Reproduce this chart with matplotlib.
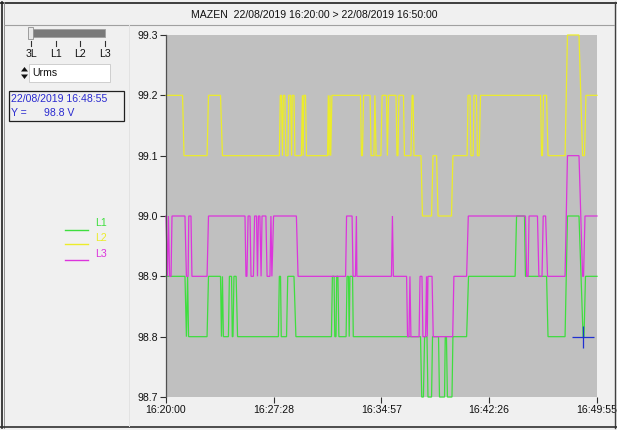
import matplotlib
matplotlib.use("Agg")
import matplotlib.pyplot as plt
from matplotlib.patches import Rectangle, Polygon
from matplotlib.lines import Line2D

# ---- data: seconds after 16:20:00 and measured Urms (V) ----
l1_t = [0, 79, 85, 90, 94, 171, 177, 227, 231, 235, 239, 260, 264, 273, 276, 279, 283, 292, 298,
        468, 472, 477, 480, 502, 507, 533, 541, 689, 693, 700, 703, 708, 711, 716, 720, 750, 754,
        760, 763, 766, 777, 780, 1060, 1065, 1072, 1077, 1087, 1091, 1106, 1110, 1135, 1139, 1160,
        1163, 1168, 1172, 1191, 1195, 1252, 1260, 1454, 1460, 1493, 1497, 1585, 1591, 1662, 1672,
        1720, 1737, 1741, 1747, 1795]
l1_v = [98.9, 98.9, 98.8, 98.9, 98.8, 98.8, 98.9, 98.9, 98.8, 98.9, 98.8, 98.8, 98.9, 98.9, 98.8,
        98.8, 98.9, 98.9, 98.8, 98.8, 98.9, 98.9, 98.8, 98.8, 98.9, 98.9, 98.8, 98.8, 98.9, 98.9,
        98.8, 98.8, 98.9, 98.9, 98.8, 98.8, 98.9, 98.9, 98.8, 98.9, 98.9, 98.8, 98.8, 98.7, 98.7,
        98.8, 98.8, 98.7, 98.7, 98.8, 98.8, 98.7, 98.7, 98.8, 98.8, 98.7, 98.7, 98.8, 98.8, 98.9,
        98.9, 99.0, 99.0, 98.9, 98.9, 98.8, 98.8, 99.0, 99.0, 98.8, 98.8, 98.9, 98.9]

l2_t = [0, 69, 75, 171, 177, 227, 235, 472, 476, 481, 485, 489, 495, 499, 508, 511, 519, 523, 526,
        533, 537, 564, 568, 571, 574, 581, 585, 673, 676, 679, 683, 686, 691, 810, 814, 818, 823,
        850, 854, 866, 870, 875, 895, 900, 918, 922, 927, 958, 962, 966, 970, 989, 993, 1020, 1025,
        1029, 1033, 1062, 1068, 1106, 1112, 1127, 1133, 1189, 1195, 1254, 1258, 1266, 1270, 1279,
        1283, 1293, 1297, 1304, 1310, 1560, 1564, 1568, 1572, 1585, 1591, 1662, 1672, 1720, 1735,
        1743, 1749, 1795]
l2_v = [99.2, 99.2, 99.1, 99.1, 99.2, 99.2, 99.1, 99.1, 99.2, 99.2, 99.1, 99.2, 99.2, 99.1, 99.1,
        99.2, 99.2, 99.1, 99.2, 99.2, 99.1, 99.1, 99.2, 99.1, 99.2, 99.2, 99.1, 99.1, 99.2, 99.1,
        99.2, 99.1, 99.2, 99.2, 99.1, 99.1, 99.2, 99.2, 99.1, 99.1, 99.2, 99.1, 99.1, 99.2, 99.2,
        99.1, 99.2, 99.2, 99.1, 99.1, 99.2, 99.2, 99.1, 99.1, 99.2, 99.2, 99.1, 99.1, 99.0, 99.0,
        99.1, 99.1, 99.0, 99.0, 99.1, 99.1, 99.2, 99.2, 99.1, 99.1, 99.2, 99.2, 99.1, 99.1, 99.2,
        99.2, 99.1, 99.1, 99.2, 99.2, 99.1, 99.1, 99.3, 99.3, 99.1, 99.1, 99.2, 99.2]

l3_t = [0, 6, 10, 15, 21, 25, 79, 85, 92, 95, 104, 108, 171, 177, 329, 333, 337, 342, 350, 354,
        364, 369, 377, 381, 385, 391, 396, 400, 416, 421, 433, 437, 441, 448, 543, 550, 748, 752,
        775, 779, 789, 793, 795, 939, 943, 947, 1002, 1006, 1012, 1016, 1020, 1054, 1058, 1066,
        1070, 1081, 1085, 1088, 1091, 1108, 1113, 1194, 1199, 1252, 1259, 1497, 1502, 1508, 1512,
        1547, 1553, 1566, 1571, 1581, 1589, 1662, 1672, 1720, 1735, 1739, 1745, 1795]
l3_v = [99.0, 98.9, 99.0, 98.9, 98.9, 99.0, 99.0, 98.9, 98.9, 99.0, 99.0, 98.9, 98.9, 99.0, 99.0,
        98.9, 98.9, 99.0, 99.0, 98.9, 98.9, 99.0, 99.0, 98.9, 99.0, 99.0, 98.9, 99.0, 99.0, 98.9,
        98.9, 99.0, 98.9, 99.0, 99.0, 98.9, 98.9, 99.0, 99.0, 98.9, 98.9, 99.0, 98.9, 98.9, 99.0,
        98.9, 98.9, 98.8, 98.8, 98.9, 98.8, 98.8, 98.9, 98.9, 98.8, 98.8, 98.9, 98.8, 98.9, 98.9,
        98.8, 98.8, 98.9, 98.9, 99.0, 99.0, 98.9, 98.9, 99.0, 99.0, 98.9, 98.9, 99.0, 99.0, 98.9,
        98.9, 99.1, 99.1, 98.9, 98.9, 99.0, 99.0]

series_names = ["L1", "L2", "L3"]
series_colors = ["#3ede3e", "#ecec2a", "#dc34dc"]

x_ticks = [0, 448, 897, 1346, 1795]
x_ticklabels = ["16:20:00", "16:27:28", "16:34:57", "16:42:26", "16:49:55"]
y_ticks = [98.7, 98.8, 98.9, 99.0, 99.1, 99.2, 99.3]
y_ticklabels = ["98.7", "98.8", "98.9", "99.0", "99.1", "99.2", "99.3"]

title_text = "MAZEN  22/08/2019 16:20:00 > 22/08/2019 16:50:00"
cursor_t = 1735
cursor_v = 98.8
cursor_label = "22/08/2019 16:48:55"
quantity = "Urms"
selector_labels = ["3L", "L1", "L2", "L3"]

# ---- figure ----
W, H = 617, 430
plt.rcParams["font.family"] = ["Liberation Sans", "DejaVu Sans"]
fig = plt.figure(figsize=(W / 100, H / 100), dpi=100, facecolor="#f0f0f0")


def fx(x):
    return x / W


def fy(y):
    return 1 - y / H


def hline(x0, x1, y, color, lw=1.0):
    fig.add_artist(Line2D([fx(x0), fx(x1)], [fy(y), fy(y)], color=color, lw=lw,
                          transform=fig.transFigure))


def vline(x, y0, y1, color, lw=1.0):
    fig.add_artist(Line2D([fx(x), fx(x)], [fy(y0), fy(y1)], color=color, lw=lw,
                          transform=fig.transFigure))


def rect(x0, y0, x1, y1, fc, ec="none", lw=0.8):
    fig.add_artist(Rectangle((fx(x0), fy(y1)), fx(x1) - fx(x0), fy(y0) - fy(y1),
                             facecolor=fc, edgecolor=ec, lw=lw, transform=fig.transFigure))


# window frame and title bar
hline(0, W, 2.5, "#202020", 1.2)
vline(1.5, 2, 428, "#202020", 1.2)
vline(3.5, 2, 428, "#909090", 0.7)
vline(614.5, 2, 428, "#404040", 1.0)
hline(0, W, 426.5, "#303030", 1.2)
hline(4, 614, 24.5, "#a0a0a0", 0.8)
vline(128.5, 25, 426, "#e2e2e2", 0.7)
fig.text(fx(314), fy(15), title_text, ha="center", va="center", fontsize=7.6, color="#101010")

# phase selector slider
rect(32, 29, 105, 37, "#7a7a7a", ec="#a0a0a0", lw=0.6)
rect(28, 27, 33, 39, "#e8e8e8", ec="#909090", lw=0.6)
for xi, lab in zip([31, 56, 80, 105], selector_labels):
    vline(xi, 41, 46, "#303030", 0.8)
    fig.text(fx(xi), fy(54), lab, ha="center", va="center", fontsize=7.6, color="#101010")

# quantity combo box
rect(29, 64, 110, 82, "#ffffff", ec="#c8c8c8", lw=0.6)
fig.add_artist(Polygon([(fx(21), fy(71.5)), (fx(28), fy(71.5)), (fx(24.5), fy(67))],
                       closed=True, fc="#101010", ec="none", transform=fig.transFigure))
fig.add_artist(Polygon([(fx(21), fy(74.5)), (fx(28), fy(74.5)), (fx(24.5), fy(79))],
                       closed=True, fc="#101010", ec="none", transform=fig.transFigure))
fig.text(fx(32), fy(73), quantity, ha="left", va="center", fontsize=7.6, color="#101010")

# cursor readout box
rect(9, 91, 124, 121, "#f0f0f0", ec="#202020", lw=0.9)
fig.text(fx(11), fy(99), cursor_label, ha="left", va="center", fontsize=7.6, color="#2a2ad0")
fig.text(fx(11), fy(113), "Y =", ha="left", va="center", fontsize=7.6, color="#2a2ad0")
fig.text(fx(44), fy(113), f"{cursor_v:.1f} V", ha="left", va="center", fontsize=7.6,
         color="#2a2ad0")

# legend
for i, (name, col) in enumerate(zip(series_names, series_colors)):
    yl = [230, 244, 260][i]
    yt = [223, 238, 254][i]
    hline(65, 88, yl, col, 1.0)
    fig.text(fx(95), fy(yt), name, ha="left", va="center", fontsize=7.6, color=col)

# ---- chart ----
ax = fig.add_axes([fx(166), fy(397), (597 - 166) / W, (397 - 35) / H])
ax.set_facecolor("#c0c0c0")
for t, v, col in zip([l1_t, l2_t, l3_t], [l1_v, l2_v, l3_v], series_colors):
    ax.plot(t, v, color=col, lw=0.9, solid_joinstyle="miter", clip_on=False)

ax.plot([cursor_t], [cursor_v], marker="+", ms=16, mew=0.9, color="#2030d0", ls="none")

ax.set_xlim(0, 1795)
ax.set_ylim(98.7, 99.3)
ax.set_xticks(x_ticks)
ax.set_xticklabels(x_ticklabels)
ax.set_yticks(y_ticks)
ax.set_yticklabels(y_ticklabels)
ax.tick_params(axis="both", direction="out", length=4, width=0.8, color="#303030",
               labelsize=7.6, labelcolor="#101010", pad=1.5)
for side in ["top", "right", "bottom"]:
    ax.spines[side].set_visible(False)
ax.spines["left"].set_color("#505050")
ax.spines["left"].set_linewidth(0.9)

fig.savefig("out.png", dpi=100, facecolor=fig.get_facecolor())
